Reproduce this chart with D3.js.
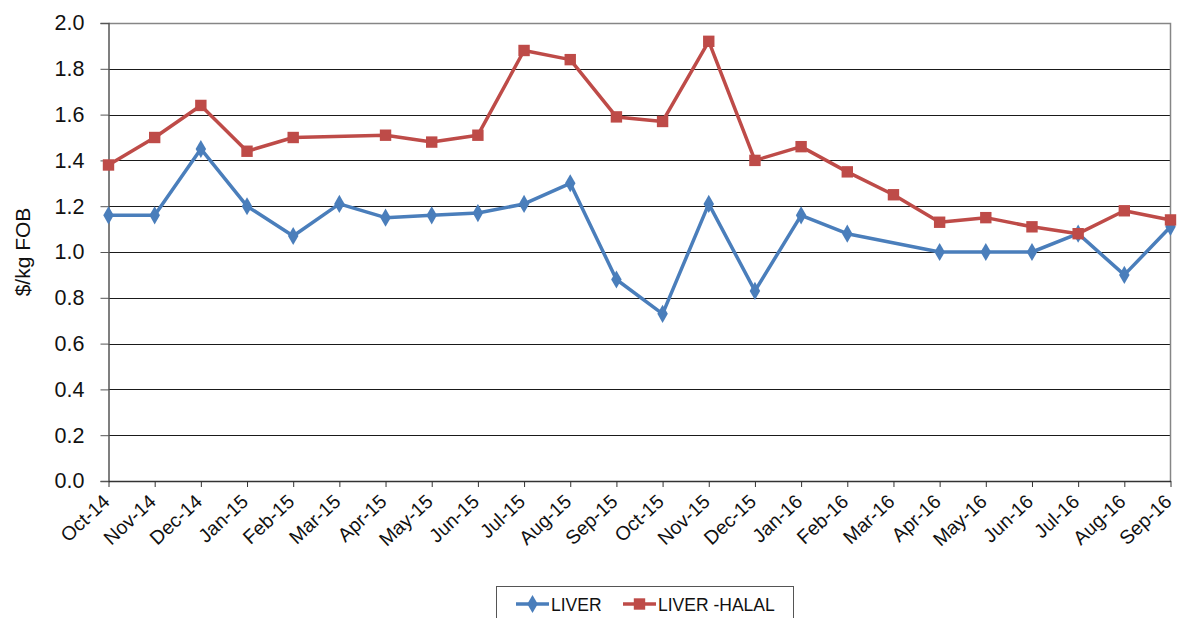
<!DOCTYPE html>
<html>
<head>
<meta charset="utf-8">
<script src="https://cdn.jsdelivr.net/npm/d3@7"></script>
<style>
  html, body { margin: 0; padding: 0; background: #fff; }
  svg { display: block; font-family: Arial, "Liberation Sans", sans-serif; }
</style>
</head>
<body>
<svg id="chart" width="1181" height="618"></svg>
<script>
// months on the category axis
const months = ["Oct-14","Nov-14","Dec-14","Jan-15","Feb-15","Mar-15","Apr-15","May-15",
  "Jun-15","Jul-15","Aug-15","Sep-15","Oct-15","Nov-15","Dec-15","Jan-16","Feb-16",
  "Mar-16","Apr-16","May-16","Jun-16","Jul-16","Aug-16","Sep-16"];

// $/kg FOB, null = no point that month
const liver = [1.16,1.16,1.45,1.20,1.07,1.21,1.15,1.16,1.17,1.21,1.30,0.88,0.73,1.21,
  0.83,1.16,1.08,null,1.00,1.00,1.00,1.08,0.90,1.11];
const liverHalal = [1.38,1.50,1.64,1.44,1.50,null,1.51,1.48,1.51,1.88,1.84,1.59,1.57,1.92,
  1.40,1.46,1.35,1.25,1.13,1.15,1.11,1.08,1.18,1.14];

const yTicks = [0,0.2,0.4,0.6,0.8,1.0,1.2,1.4,1.6,1.8,2.0];

const series = [
  { name: "LIVER", values: liver, color: "#4a7ebb", shape: d3.symbolDiamond, size: 95 },
  { name: "LIVER -HALAL", values: liverHalal, color: "#be4b48", shape: d3.symbolSquare, size: 130 }
];

const L = 108.5, R = 1170.5, T = 23, B = 481;
const svg = d3.select("#chart");

const x = d3.scalePoint().domain(months).range([L, R]);
const y = d3.scaleLinear().domain([0, 2]).range([B, T]);

// gridlines
svg.append("g").selectAll("line")
  .data(yTicks.filter(d => d > 0 && d < 2))
  .join("line")
  .attr("x1", L).attr("x2", R)
  .attr("y1", d => Math.round(y(d)) + 0.5).attr("y2", d => Math.round(y(d)) + 0.5)
  .attr("stroke", "#1a1a1a").attr("stroke-width", 1);

// plot border (top + right grey)
svg.append("path")
  .attr("d", `M${L},${T + 0.5}H${R}V${B}`)
  .attr("fill", "none").attr("stroke", "#868686").attr("stroke-width", 1.5);

// y axis
const yAxis = svg.append("g")
  .attr("transform", `translate(${L},0)`)
  .call(d3.axisLeft(y).tickValues(yTicks).tickFormat(d3.format(".1f")).tickSize(8).tickPadding(16));
yAxis.select(".domain").attr("stroke", "#555").attr("stroke-width", 1.5);
yAxis.selectAll(".tick line").attr("stroke", "#555");
yAxis.selectAll("text").attr("font-size", "21.5px").attr("fill", "#111")
  .attr("font-family", "Arial, 'Liberation Sans', sans-serif");

// x axis
const xAxis = svg.append("g")
  .attr("transform", `translate(0,${B})`)
  .call(d3.axisBottom(x).tickSize(6).tickPadding(4).tickSizeOuter(0));
xAxis.select(".domain").attr("stroke", "#333").attr("stroke-width", 1.5);
xAxis.selectAll(".tick line").attr("stroke", "#333");
xAxis.selectAll("text")
  .attr("font-size", "19.5px").attr("fill", "#111")
  .attr("font-family", "Arial, 'Liberation Sans', sans-serif")
  .attr("text-anchor", "end")
  .attr("x", 0).attr("y", 0)
  .attr("dy", null)
  .attr("transform", "translate(2,22) rotate(-43)");

// y title
svg.append("text")
  .attr("transform", "translate(30,252) rotate(-90)")
  .attr("text-anchor", "middle")
  .attr("font-size", "21px").attr("fill", "#111")
  .text("$/kg FOB");

// lines and markers
series.forEach(s => {
  const pts = months.map((m, i) => ({ m, v: s.values[i] })).filter(d => d.v != null);
  svg.append("path")
    .datum(pts)
    .attr("fill", "none")
    .attr("stroke", s.color)
    .attr("stroke-width", 3.5)
    .attr("stroke-linejoin", "round")
    .attr("d", d3.line().x(d => x(d.m)).y(d => y(d.v)));
  svg.append("g").selectAll("path")
    .data(pts)
    .join("path")
    .attr("transform", d => `translate(${x(d.m)},${y(d.v)})`)
    .attr("d", d3.symbol().type(s.shape).size(s.size))
    .attr("fill", s.color);
});

// legend
const lg = svg.append("g");
lg.append("rect")
  .attr("x", 496.5).attr("y", 586.5).attr("width", 297).attr("height", 40)
  .attr("fill", "#fff").attr("stroke", "#555").attr("stroke-width", 1);
const legendX = [516, 623];
series.forEach((s, i) => {
  const g = lg.append("g").attr("transform", `translate(${legendX[i]},604)`);
  g.append("line").attr("x1", 0).attr("x2", 33)
    .attr("stroke", s.color).attr("stroke-width", 3.5);
  g.append("path").attr("transform", "translate(16.5,0)")
    .attr("d", d3.symbol().type(s.shape).size(s.size)).attr("fill", s.color);
  g.append("text").attr("x", 35).attr("y", 7)
    .attr("font-size", "17.5px").attr("fill", "#111").text(s.name);
});
</script>
</body>
</html>
